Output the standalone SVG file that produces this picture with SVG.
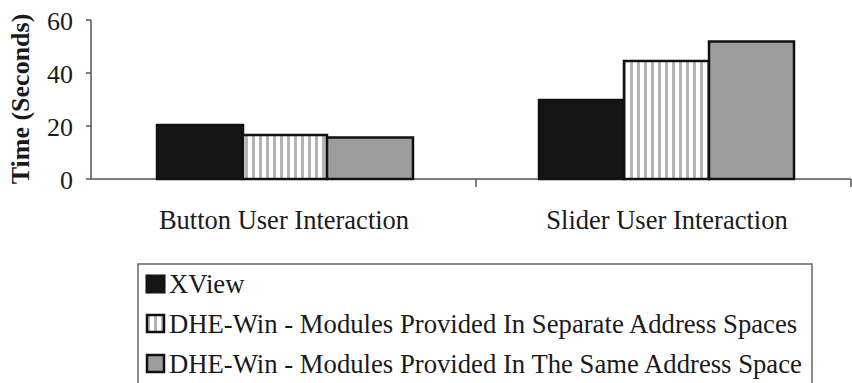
<svg xmlns="http://www.w3.org/2000/svg" width="852" height="383" viewBox="0 0 852 383">
<defs>
<pattern id="stripes" patternUnits="userSpaceOnUse" width="7" height="10">
<rect width="7" height="10" fill="#ffffff"/>
<rect x="0" width="3" height="10" fill="#b4b4b4"/>
</pattern>
<style>
.axis{stroke:#555;stroke-width:1.5;fill:none}
.bar{stroke:#111;stroke-width:2.5}
.black{fill:#151515}
.striped{fill:url(#stripes)}
.gray{fill:#9c9c9c}
</style>
</defs>
<rect width="852" height="383" fill="#ffffff"/>

<g id="y-axis-title">
<text font-family="Liberation Serif" font-size="26" font-weight="bold" text-anchor="middle" fill="#1a1a1a" transform="translate(29,99) rotate(-90)">Time (Seconds)</text>
</g>

<g id="axes">
<path class="axis" d="M91,20 V179 M86,20 H91 M86,73 H91 M86,126 H91 M86,179 H851 M476,179 V187 M851,179 V187"/>
<g font-family="Liberation Serif" font-size="26" text-anchor="end" fill="#1a1a1a">
<text x="73" y="30">60</text>
<text x="73" y="83">40</text>
<text x="73" y="136">20</text>
<text x="73" y="189">0</text>
</g>
</g>

<g id="group-button">
<rect class="bar black" x="157" y="125" width="86" height="54"/>
<rect class="bar striped" x="243" y="135" width="84" height="44"/>
<rect class="bar gray" x="327" y="137.5" width="86" height="41.5"/>
<text font-family="Liberation Serif" font-size="26.5" text-anchor="middle" fill="#1a1a1a" x="284" y="229">Button User Interaction</text>
</g>

<g id="group-slider">
<rect class="bar black" x="539" y="100" width="85" height="79"/>
<rect class="bar striped" x="624" y="61" width="85" height="118"/>
<rect class="bar gray" x="709" y="41.5" width="85" height="137.5"/>
<text font-family="Liberation Serif" font-size="26.5" text-anchor="middle" fill="#1a1a1a" x="667" y="229">Slider User Interaction</text>
</g>

<g id="legend">
<rect x="138" y="264" width="674" height="140" fill="#ffffff" stroke="#666" stroke-width="1.5"/>
<rect class="black" x="146" y="275" width="19" height="18" stroke="#111" stroke-width="1"/>
<rect class="striped" x="147" y="315" width="17" height="17" stroke="#111" stroke-width="2.5"/>
<rect class="gray" x="147" y="355" width="17" height="17" stroke="#111" stroke-width="2.5"/>
<g font-family="Liberation Serif" font-size="26.7" fill="#1a1a1a">
<text x="169" y="293">XView</text>
<text x="169" y="333">DHE-Win - Modules Provided In Separate Address Spaces</text>
<text x="169" y="373">DHE-Win - Modules Provided In The Same Address Space</text>
</g>
</g>
</svg>
